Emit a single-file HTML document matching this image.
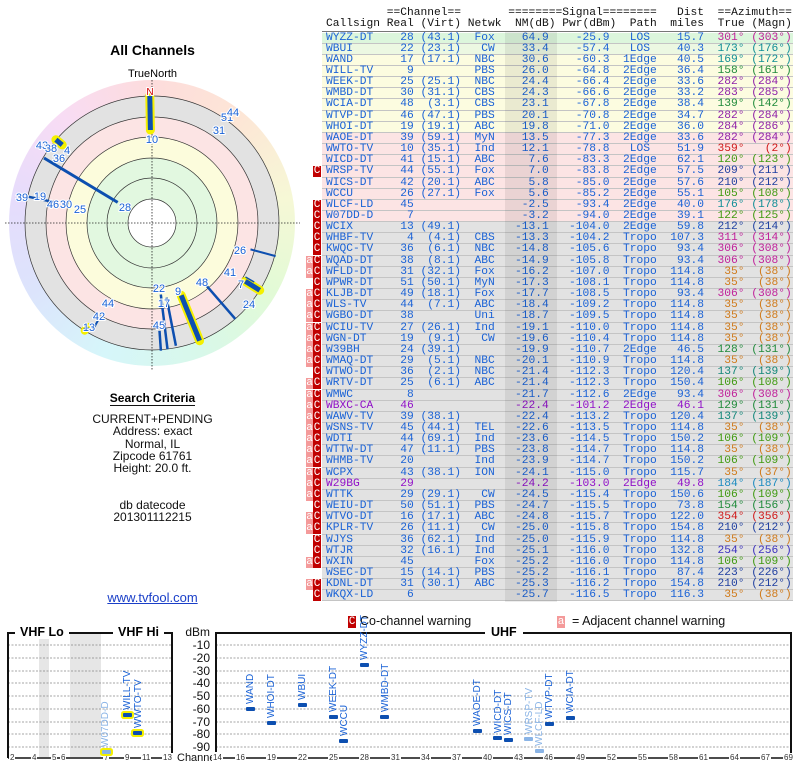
<!DOCTYPE html>
<html><head><meta charset="utf-8"><style>
*{margin:0;padding:0;box-sizing:border-box}
body{width:800px;height:768px;background:#fff;position:relative;overflow:hidden;font-family:"Liberation Sans",sans-serif}
.abs{position:absolute}
#hdr{position:absolute;left:326px;top:8px;font:11.25px/11px "Liberation Mono",monospace;color:#111;white-space:pre}
#hl{position:absolute;left:322px;top:31px;width:471px;height:1px;background:#777}
#tbl{position:absolute;left:322px;top:32.5px;width:471px;font:11.25px/11px "Liberation Mono",monospace;color:#1a62d6}
.r{position:relative;height:11.16px;border-bottom:1px solid #c4c4c4;padding-left:4px;white-space:pre;background:#e2e2e2}
.r span{display:inline-block;white-space:pre}
.a{width:11ch}.b{width:2ch;text-align:right}.c{width:7ch;text-align:right}.d{width:5ch;text-align:right}
.e{width:8ch;text-align:right}.f{width:9ch;text-align:right}.g{width:5ch;margin-left:2ch;text-align:center}
.h{width:7ch;text-align:right}.i{width:6ch;text-align:right}.j{width:7ch;text-align:right}
.G1{background:#dcf6dc}.G2{background:#ecf8e2}.Y{background:#fcfce0}.P{background:#fce4e4}
.pu{color:#9010c8}
.m{color:#c0209a}.t{color:#108e96}.gg{color:#1f8a3a}.p{color:#8e1fa8}.rd{color:#d01818}.lg{color:#3f9a10}.bl{color:#1f3fa0}.o{color:#d07a1a}.tg{color:#12877a}.cy{color:#1a8ac0}.v{color:#3a30c0}
.mc,.ma{position:absolute;top:0;height:11px;color:#fff;font:11px/11px "Liberation Mono",monospace;text-align:center}
.mc{left:-9px;width:8px;background:#c00000}
.ma{left:-16px;width:7px;background:#f49a9a}
#nm{position:absolute;left:505px;top:32px;width:52px;height:570px;background:rgba(0,0,0,0.07)}
.lbl{position:absolute;font:10px "Liberation Sans",sans-serif;color:#1a62d6;transform:rotate(-90deg);transform-origin:0 0;white-space:nowrap}
.lt{color:#8ab4e6}
.bar{position:absolute;width:9px;height:4px;background:#0d4fb0;border-radius:1px}
.bl2{background:#8ab4e6}
.hy{box-shadow:0 0 0 2px #f4f000}
.ax{position:absolute;font:8px "Liberation Sans",sans-serif;color:#333;background:#fff;padding:0 1px}
.yl{position:absolute;left:180px;width:30px;text-align:right;font:12px "Liberation Sans",sans-serif;color:#111}
</style></head><body>

<div class="abs" style="left:0;top:42px;width:305px;text-align:center;font-weight:bold;font-size:14px">All Channels</div>
<div class="abs" style="left:0;top:68px;width:305px;text-align:center;font-size:11px">TrueNorth</div>
<div class="abs" style="left:9px;top:80px;width:286px;height:286px;border-radius:50%;background:conic-gradient(#fddcdc,#fde6d6,#f6f8d6,#e2fad6,#d8f8ea,#d6f6fa,#dce4fc,#e6dcfc,#f8dcf4,#fddcdc)"></div>
<svg class="abs" style="left:0;top:0" width="305" height="400" font-family="Liberation Sans, sans-serif">
<circle cx="152" cy="223" r="127" fill="#e2e2e2" stroke="#333" stroke-width=".7"/>
<circle cx="152" cy="223" r="106" fill="#fce4e4" stroke="#333" stroke-width=".7"/>
<circle cx="152" cy="223" r="86" fill="#fcfcdc" stroke="#333" stroke-width=".7"/>
<circle cx="152" cy="223" r="65" fill="#e2f8e0" stroke="#333" stroke-width=".7"/>
<circle cx="152" cy="223" r="45" fill="none" stroke="#333" stroke-width=".7"/>
<circle cx="152" cy="223" r="24" fill="#fff" stroke="#333" stroke-width=".7"/>
<line x1="5" y1="223" x2="300" y2="223" stroke="#222" stroke-width=".8" stroke-dasharray="1.5,1.5"/>
<line x1="152" y1="80" x2="152" y2="370" stroke="#222" stroke-width=".8" stroke-dasharray="1.5,1.5"/>
<g stroke-linecap="round">
<line x1="150.4" y1="130" x2="149.8" y2="96" stroke="#f4f000" stroke-width="9"/>
<line x1="199.6" y1="340.7" x2="181.2" y2="295.3" stroke="#f4f000" stroke-width="9"/>
<line x1="245.3" y1="281.3" x2="259.7" y2="290.3" stroke="#f4f000" stroke-width="9"/>
<line x1="62.2" y1="144.9" x2="55.9" y2="139.7" stroke="#f4f000" stroke-width="9"/>
<line x1="87.4" y1="326.8" x2="84.7" y2="330.7" stroke="#f4f000" stroke-width="8"/>
</g>
<g stroke="#0d4fb0" stroke-linecap="butt">
<line x1="150.4" y1="130" x2="149.8" y2="96" stroke-width="5"/>
<line x1="199.6" y1="340.7" x2="181.2" y2="295.3" stroke-width="5"/>
<line x1="245.3" y1="281.3" x2="259.7" y2="290.3" stroke-width="5"/>
<line x1="62.2" y1="144.9" x2="55.9" y2="139.7" stroke-width="5"/>
<line x1="87.4" y1="326.8" x2="84.7" y2="330.7" stroke-width="4"/>
<line x1="117.7" y1="202.4" x2="44" y2="158" stroke-width="3"/>
<line x1="250.5" y1="249.4" x2="275.6" y2="256.1" stroke-width="2"/>
<line x1="206.5" y1="285.7" x2="235.3" y2="318.9" stroke-width="2.5"/>
<line x1="160.8" y1="294.5" x2="167.5" y2="349.1" stroke-width="2.5"/>
<line x1="166.5" y1="297.6" x2="175.9" y2="345.7" stroke-width="2.5"/>
<line x1="159.5" y1="330.8" x2="160.9" y2="350.7" stroke-width="2.5"/>
<line x1="98.7" y1="319.2" x2="92.8" y2="329.8" stroke-width="2"/>
<line x1="54.2" y1="202.2" x2="28.8" y2="196.8" stroke-width="2.5"/>
<line x1="245.5" y1="277" x2="254.2" y2="282" stroke-width="1.5"/>
</g>
<g font-size="11" fill="#1a62d6" text-anchor="middle" stroke="#fff" stroke-width="2" paint-order="stroke">
<text x="150" y="95" fill="#d00000" font-size="10">N</text>
<text x="152" y="143">10</text><text x="125" y="211">28</text><text x="240" y="254">26</text>
<text x="230" y="276">41</text><text x="241" y="288">7</text><text x="249" y="308">24</text>
<text x="202" y="286">48</text><text x="178" y="295">9</text><text x="159" y="292">22</text>
<text x="164" y="307">17</text><text x="159" y="329">45</text><text x="108" y="307">44</text>
<text x="99" y="320">42</text><text x="89" y="331">13</text>
<text x="42" y="149">43</text><text x="51" y="152">38</text><text x="67" y="154">4</text><text x="59" y="162">36</text>
<text x="22" y="201">39</text><text x="40" y="200">19</text><text x="53" y="208">46</text><text x="66" y="208">30</text><text x="80" y="213">25</text>
<text x="227" y="121">51</text><text x="219" y="134">31</text><text x="233" y="116">44</text>
</g>
</svg>

<div class="abs" style="left:0;top:391px;width:305px;text-align:center;font-weight:bold;font-size:12px"><span style="border-bottom:1px solid #111">Search Criteria</span></div>
<div class="abs" style="left:0;top:413px;width:305px;text-align:center;font-size:12px;line-height:12.3px;color:#111">CURRENT+PENDING<br>Address: exact<br>Normal, IL<br>Zipcode 61761<br>Height: 20.0 ft.<br><br><br>db datecode<br>201301112215</div>
<div class="abs" style="left:0;top:590px;width:305px;text-align:center;font-size:13px;color:#1a3fc8;text-decoration:underline">www.tvfool.com</div>

<div id="hdr">         ==Channel==       ========Signal========   Dist  ==Azimuth==
Callsign Real (Virt) Netwk  NM(dB) Pwr(dBm)  Path  miles  True (Magn)</div>
<div id="hl"></div>
<div id="tbl">
<div class="r G1"><span class=a>WYZZ-DT</span><span class=b>28</span><span class=c>(43.1)</span><span class=d>Fox</span><span class=e>64.9</span><span class=f>-25.9</span><span class=g>LOS</span><span class=h>15.7</span><span class="i m">301°</span><span class="j m">(303°)</span></div>
<div class="r G2"><span class=a>WBUI</span><span class=b>22</span><span class=c>(23.1)</span><span class=d>CW</span><span class=e>33.4</span><span class=f>-57.4</span><span class=g>LOS</span><span class=h>40.3</span><span class="i t">173°</span><span class="j t">(176°)</span></div>
<div class="r Y"><span class=a>WAND</span><span class=b>17</span><span class=c>(17.1)</span><span class=d>NBC</span><span class=e>30.6</span><span class=f>-60.3</span><span class=g>1Edge</span><span class=h>40.5</span><span class="i t">169°</span><span class="j t">(172°)</span></div>
<div class="r Y"><span class=a>WILL-TV</span><span class=b>9</span><span class=c></span><span class=d>PBS</span><span class=e>26.0</span><span class=f>-64.8</span><span class=g>2Edge</span><span class=h>36.4</span><span class="i gg">158°</span><span class="j gg">(161°)</span></div>
<div class="r Y"><span class=a>WEEK-DT</span><span class=b>25</span><span class=c>(25.1)</span><span class=d>NBC</span><span class=e>24.4</span><span class=f>-66.4</span><span class=g>2Edge</span><span class=h>33.6</span><span class="i p">282°</span><span class="j p">(284°)</span></div>
<div class="r Y"><span class=a>WMBD-DT</span><span class=b>30</span><span class=c>(31.1)</span><span class=d>CBS</span><span class=e>24.3</span><span class=f>-66.6</span><span class=g>2Edge</span><span class=h>33.2</span><span class="i p">283°</span><span class="j p">(285°)</span></div>
<div class="r Y"><span class=a>WCIA-DT</span><span class=b>48</span><span class=c>(3.1)</span><span class=d>CBS</span><span class=e>23.1</span><span class=f>-67.8</span><span class=g>2Edge</span><span class=h>38.4</span><span class="i gg">139°</span><span class="j gg">(142°)</span></div>
<div class="r Y"><span class=a>WTVP-DT</span><span class=b>46</span><span class=c>(47.1)</span><span class=d>PBS</span><span class=e>20.1</span><span class=f>-70.8</span><span class=g>2Edge</span><span class=h>34.7</span><span class="i p">282°</span><span class="j p">(284°)</span></div>
<div class="r Y"><span class=a>WHOI-DT</span><span class=b>19</span><span class=c>(19.1)</span><span class=d>ABC</span><span class=e>19.8</span><span class=f>-71.0</span><span class=g>2Edge</span><span class=h>36.0</span><span class="i p">284°</span><span class="j p">(286°)</span></div>
<div class="r P"><span class=a>WAOE-DT</span><span class=b>39</span><span class=c>(59.1)</span><span class=d>MyN</span><span class=e>13.5</span><span class=f>-77.3</span><span class=g>2Edge</span><span class=h>33.6</span><span class="i p">282°</span><span class="j p">(284°)</span></div>
<div class="r P"><span class=a>WWTO-TV</span><span class=b>10</span><span class=c>(35.1)</span><span class=d>Ind</span><span class=e>12.1</span><span class=f>-78.8</span><span class=g>LOS</span><span class=h>51.9</span><span class="i rd">359°</span><span class="j rd">(2°)</span></div>
<div class="r P"><span class=a>WICD-DT</span><span class=b>41</span><span class=c>(15.1)</span><span class=d>ABC</span><span class=e>7.6</span><span class=f>-83.3</span><span class=g>2Edge</span><span class=h>62.1</span><span class="i lg">120°</span><span class="j lg">(123°)</span></div>
<div class="r P"><i class=mc>C</i><span class=a>WRSP-TV</span><span class=b>44</span><span class=c>(55.1)</span><span class=d>Fox</span><span class=e>7.0</span><span class=f>-83.8</span><span class=g>2Edge</span><span class=h>57.5</span><span class="i bl">209°</span><span class="j bl">(211°)</span></div>
<div class="r P"><span class=a>WICS-DT</span><span class=b>42</span><span class=c>(20.1)</span><span class=d>ABC</span><span class=e>5.8</span><span class=f>-85.0</span><span class=g>2Edge</span><span class=h>57.6</span><span class="i bl">210°</span><span class="j bl">(212°)</span></div>
<div class="r P"><span class=a>WCCU</span><span class=b>26</span><span class=c>(27.1)</span><span class=d>Fox</span><span class=e>5.6</span><span class=f>-85.2</span><span class=g>2Edge</span><span class=h>55.1</span><span class="i lg">105°</span><span class="j lg">(108°)</span></div>
<div class="r P"><i class=mc>C</i><span class=a>WLCF-LD</span><span class=b>45</span><span class=c></span><span class=d></span><span class=e>-2.5</span><span class=f>-93.4</span><span class=g>2Edge</span><span class=h>40.0</span><span class="i t">176°</span><span class="j t">(178°)</span></div>
<div class="r P"><i class=mc>C</i><span class=a>W07DD-D</span><span class=b>7</span><span class=c></span><span class=d></span><span class=e>-3.2</span><span class=f>-94.0</span><span class=g>2Edge</span><span class=h>39.1</span><span class="i lg">122°</span><span class="j lg">(125°)</span></div>
<div class="r"><i class=mc>C</i><span class=a>WCIX</span><span class=b>13</span><span class=c>(49.1)</span><span class=d></span><span class=e>-13.1</span><span class=f>-104.0</span><span class=g>2Edge</span><span class=h>59.8</span><span class="i bl">212°</span><span class="j bl">(214°)</span></div>
<div class="r"><i class=mc>C</i><span class=a>WHBF-TV</span><span class=b>4</span><span class=c>(4.1)</span><span class=d>CBS</span><span class=e>-13.3</span><span class=f>-104.2</span><span class=g>Tropo</span><span class=h>107.3</span><span class="i m">311°</span><span class="j m">(314°)</span></div>
<div class="r"><i class=mc>C</i><span class=a>KWQC-TV</span><span class=b>36</span><span class=c>(6.1)</span><span class=d>NBC</span><span class=e>-14.8</span><span class=f>-105.6</span><span class=g>Tropo</span><span class=h>93.4</span><span class="i m">306°</span><span class="j m">(308°)</span></div>
<div class="r"><i class=ma>a</i><i class=mc>C</i><span class=a>WQAD-DT</span><span class=b>38</span><span class=c>(8.1)</span><span class=d>ABC</span><span class=e>-14.9</span><span class=f>-105.8</span><span class=g>Tropo</span><span class=h>93.4</span><span class="i m">306°</span><span class="j m">(308°)</span></div>
<div class="r"><i class=ma>a</i><i class=mc>C</i><span class=a>WFLD-DT</span><span class=b>31</span><span class=c>(32.1)</span><span class=d>Fox</span><span class=e>-16.2</span><span class=f>-107.0</span><span class=g>Tropo</span><span class=h>114.8</span><span class="i o">35°</span><span class="j o">(38°)</span></div>
<div class="r"><i class=mc>C</i><span class=a>WPWR-DT</span><span class=b>51</span><span class=c>(50.1)</span><span class=d>MyN</span><span class=e>-17.3</span><span class=f>-108.1</span><span class=g>Tropo</span><span class=h>114.8</span><span class="i o">35°</span><span class="j o">(38°)</span></div>
<div class="r"><i class=ma>a</i><i class=mc>C</i><span class=a>KLJB-DT</span><span class=b>49</span><span class=c>(18.1)</span><span class=d>Fox</span><span class=e>-17.7</span><span class=f>-108.5</span><span class=g>Tropo</span><span class=h>93.4</span><span class="i m">306°</span><span class="j m">(308°)</span></div>
<div class="r"><i class=ma>a</i><i class=mc>C</i><span class=a>WLS-TV</span><span class=b>44</span><span class=c>(7.1)</span><span class=d>ABC</span><span class=e>-18.4</span><span class=f>-109.2</span><span class=g>Tropo</span><span class=h>114.8</span><span class="i o">35°</span><span class="j o">(38°)</span></div>
<div class="r"><i class=ma>a</i><i class=mc>C</i><span class=a>WGBO-DT</span><span class=b>38</span><span class=c></span><span class=d>Uni</span><span class=e>-18.7</span><span class=f>-109.5</span><span class=g>Tropo</span><span class=h>114.8</span><span class="i o">35°</span><span class="j o">(38°)</span></div>
<div class="r"><i class=ma>a</i><i class=mc>C</i><span class=a>WCIU-TV</span><span class=b>27</span><span class=c>(26.1)</span><span class=d>Ind</span><span class=e>-19.1</span><span class=f>-110.0</span><span class=g>Tropo</span><span class=h>114.8</span><span class="i o">35°</span><span class="j o">(38°)</span></div>
<div class="r"><i class=ma>a</i><i class=mc>C</i><span class=a>WGN-DT</span><span class=b>19</span><span class=c>(9.1)</span><span class=d>CW</span><span class=e>-19.6</span><span class=f>-110.4</span><span class=g>Tropo</span><span class=h>114.8</span><span class="i o">35°</span><span class="j o">(38°)</span></div>
<div class="r"><i class=ma>a</i><i class=mc>C</i><span class=a>W39BH</span><span class=b>24</span><span class=c>(39.1)</span><span class=d></span><span class=e>-19.9</span><span class=f>-110.7</span><span class=g>2Edge</span><span class=h>46.5</span><span class="i gg">128°</span><span class="j gg">(131°)</span></div>
<div class="r"><i class=ma>a</i><i class=mc>C</i><span class=a>WMAQ-DT</span><span class=b>29</span><span class=c>(5.1)</span><span class=d>NBC</span><span class=e>-20.1</span><span class=f>-110.9</span><span class=g>Tropo</span><span class=h>114.8</span><span class="i o">35°</span><span class="j o">(38°)</span></div>
<div class="r"><i class=mc>C</i><span class=a>WTWO-DT</span><span class=b>36</span><span class=c>(2.1)</span><span class=d>NBC</span><span class=e>-21.4</span><span class=f>-112.3</span><span class=g>Tropo</span><span class=h>120.4</span><span class="i tg">137°</span><span class="j tg">(139°)</span></div>
<div class="r"><i class=ma>a</i><i class=mc>C</i><span class=a>WRTV-DT</span><span class=b>25</span><span class=c>(6.1)</span><span class=d>ABC</span><span class=e>-21.4</span><span class=f>-112.3</span><span class=g>Tropo</span><span class=h>150.4</span><span class="i lg">106°</span><span class="j lg">(108°)</span></div>
<div class="r"><i class=ma>a</i><i class=mc>C</i><span class=a>WMWC</span><span class=b>8</span><span class=c></span><span class=d></span><span class=e>-21.7</span><span class=f>-112.6</span><span class=g>2Edge</span><span class=h>93.4</span><span class="i m">306°</span><span class="j m">(308°)</span></div>
<div class="r pu"><i class=ma>a</i><i class=mc>C</i><span class=a>WBXC-CA</span><span class=b>46</span><span class=c></span><span class=d></span><span class=e>-22.4</span><span class=f>-101.2</span><span class=g>2Edge</span><span class=h>46.1</span><span class="i gg">129°</span><span class="j gg">(131°)</span></div>
<div class="r"><i class=ma>a</i><i class=mc>C</i><span class=a>WAWV-TV</span><span class=b>39</span><span class=c>(38.1)</span><span class=d></span><span class=e>-22.4</span><span class=f>-113.2</span><span class=g>Tropo</span><span class=h>120.4</span><span class="i tg">137°</span><span class="j tg">(139°)</span></div>
<div class="r"><i class=ma>a</i><i class=mc>C</i><span class=a>WSNS-TV</span><span class=b>45</span><span class=c>(44.1)</span><span class=d>TEL</span><span class=e>-22.6</span><span class=f>-113.5</span><span class=g>Tropo</span><span class=h>114.8</span><span class="i o">35°</span><span class="j o">(38°)</span></div>
<div class="r"><i class=ma>a</i><i class=mc>C</i><span class=a>WDTI</span><span class=b>44</span><span class=c>(69.1)</span><span class=d>Ind</span><span class=e>-23.6</span><span class=f>-114.5</span><span class=g>Tropo</span><span class=h>150.2</span><span class="i lg">106°</span><span class="j lg">(109°)</span></div>
<div class="r"><i class=ma>a</i><i class=mc>C</i><span class=a>WTTW-DT</span><span class=b>47</span><span class=c>(11.1)</span><span class=d>PBS</span><span class=e>-23.8</span><span class=f>-114.7</span><span class=g>Tropo</span><span class=h>114.8</span><span class="i o">35°</span><span class="j o">(38°)</span></div>
<div class="r"><i class=ma>a</i><i class=mc>C</i><span class=a>WHMB-TV</span><span class=b>20</span><span class=c></span><span class=d>Ind</span><span class=e>-23.9</span><span class=f>-114.7</span><span class=g>Tropo</span><span class=h>150.2</span><span class="i lg">106°</span><span class="j lg">(109°)</span></div>
<div class="r"><i class=ma>a</i><i class=mc>C</i><span class=a>WCPX</span><span class=b>43</span><span class=c>(38.1)</span><span class=d>ION</span><span class=e>-24.1</span><span class=f>-115.0</span><span class=g>Tropo</span><span class=h>115.7</span><span class="i o">35°</span><span class="j o">(37°)</span></div>
<div class="r pu"><i class=ma>a</i><i class=mc>C</i><span class=a>W29BG</span><span class=b>29</span><span class=c></span><span class=d></span><span class=e>-24.2</span><span class=f>-103.0</span><span class=g>2Edge</span><span class=h>49.8</span><span class="i cy">184°</span><span class="j cy">(187°)</span></div>
<div class="r"><i class=ma>a</i><i class=mc>C</i><span class=a>WTTK</span><span class=b>29</span><span class=c>(29.1)</span><span class=d>CW</span><span class=e>-24.5</span><span class=f>-115.4</span><span class=g>Tropo</span><span class=h>150.6</span><span class="i lg">106°</span><span class="j lg">(109°)</span></div>
<div class="r"><i class=mc>C</i><span class=a>WEIU-DT</span><span class=b>50</span><span class=c>(51.1)</span><span class=d>PBS</span><span class=e>-24.7</span><span class=f>-115.5</span><span class=g>Tropo</span><span class=h>73.8</span><span class="i gg">154°</span><span class="j gg">(156°)</span></div>
<div class="r"><i class=ma>a</i><i class=mc>C</i><span class=a>WTVO-DT</span><span class=b>16</span><span class=c>(17.1)</span><span class=d>ABC</span><span class=e>-24.8</span><span class=f>-115.7</span><span class=g>Tropo</span><span class=h>122.0</span><span class="i rd">354°</span><span class="j rd">(356°)</span></div>
<div class="r"><i class=ma>a</i><i class=mc>C</i><span class=a>KPLR-TV</span><span class=b>26</span><span class=c>(11.1)</span><span class=d>CW</span><span class=e>-25.0</span><span class=f>-115.8</span><span class=g>Tropo</span><span class=h>154.8</span><span class="i bl">210°</span><span class="j bl">(212°)</span></div>
<div class="r"><i class=mc>C</i><span class=a>WJYS</span><span class=b>36</span><span class=c>(62.1)</span><span class=d>Ind</span><span class=e>-25.0</span><span class=f>-115.9</span><span class=g>Tropo</span><span class=h>114.8</span><span class="i o">35°</span><span class="j o">(38°)</span></div>
<div class="r"><i class=mc>C</i><span class=a>WTJR</span><span class=b>32</span><span class=c>(16.1)</span><span class=d>Ind</span><span class=e>-25.1</span><span class=f>-116.0</span><span class=g>Tropo</span><span class=h>132.8</span><span class="i v">254°</span><span class="j v">(256°)</span></div>
<div class="r"><i class=ma>a</i><i class=mc>C</i><span class=a>WXIN</span><span class=b>45</span><span class=c></span><span class=d>Fox</span><span class=e>-25.2</span><span class=f>-116.0</span><span class=g>Tropo</span><span class=h>114.8</span><span class="i lg">106°</span><span class="j lg">(109°)</span></div>
<div class="r"><span class=a>WSEC-DT</span><span class=b>15</span><span class=c>(14.1)</span><span class=d>PBS</span><span class=e>-25.2</span><span class=f>-116.1</span><span class=g>Tropo</span><span class=h>87.4</span><span class="i bl">223°</span><span class="j bl">(226°)</span></div>
<div class="r"><i class=ma>a</i><i class=mc>C</i><span class=a>KDNL-DT</span><span class=b>31</span><span class=c>(30.1)</span><span class=d>ABC</span><span class=e>-25.3</span><span class=f>-116.2</span><span class=g>Tropo</span><span class=h>154.8</span><span class="i bl">210°</span><span class="j bl">(212°)</span></div>
<div class="r"><i class=mc>C</i><span class=a>WKQX-LD</span><span class=b>6</span><span class=c></span><span class=d></span><span class=e>-25.7</span><span class=f>-116.5</span><span class=g>Tropo</span><span class=h>116.3</span><span class="i o">35°</span><span class="j o">(38°)</span></div>
</div>
<div id="nm"></div>

<div class="abs" style="left:348px;top:616px;width:8px;height:12px;background:#c00000;color:#fff;font:11px/12px 'Liberation Mono',monospace;text-align:center">C</div>
<div class="abs" style="left:360px;top:614px;font-size:12.5px;color:#111">Co-channel warning</div>
<div class="abs" style="left:557px;top:616px;width:8px;height:12px;background:#f49a9a;color:#fff;font:11px/12px 'Liberation Mono',monospace;text-align:center">a</div>
<div class="abs" style="left:572px;top:614px;font-size:12.5px;color:#111">= Adjacent channel warning</div>

<svg class="abs" style="left:0;top:620px" width="800" height="148">
<rect x="39" y="14" width="10" height="123" fill="#e6e6e6"/>
<rect x="70" y="14" width="31" height="123" fill="#e6e6e6"/>
<g stroke="#888" stroke-width=".8" stroke-dasharray="2,1.5">
<line x1="8" x2="172" y1="25" y2="25"/><line x1="8" x2="172" y1="38" y2="38"/><line x1="8" x2="172" y1="51" y2="51"/><line x1="8" x2="172" y1="63" y2="63"/><line x1="8" x2="172" y1="76" y2="76"/><line x1="8" x2="172" y1="89" y2="89"/><line x1="8" x2="172" y1="102" y2="102"/><line x1="8" x2="172" y1="114" y2="114"/><line x1="8" x2="172" y1="127" y2="127"/>
<line x1="216" x2="791" y1="25" y2="25"/><line x1="216" x2="791" y1="38" y2="38"/><line x1="216" x2="791" y1="51" y2="51"/><line x1="216" x2="791" y1="63" y2="63"/><line x1="216" x2="791" y1="76" y2="76"/><line x1="216" x2="791" y1="89" y2="89"/><line x1="216" x2="791" y1="102" y2="102"/><line x1="216" x2="791" y1="114" y2="114"/><line x1="216" x2="791" y1="127" y2="127"/>
</g>
<g stroke="#111" stroke-width="2" fill="none">
<polyline points="8,138 8,13 172,13 172,138"/>
<polyline points="216,138 216,13 791,13 791,138"/>
</g>
<line x1="8" x2="172" y1="138" y2="138" stroke="#111" stroke-width="1.5"/>
<line x1="216" x2="791" y1="138" y2="138" stroke="#111" stroke-width="1.5"/>
</svg>
<div class="abs" style="left:15px;top:625px;background:#fff;padding:0 5px;font-weight:bold;font-size:12.5px">VHF Lo</div>
<div class="abs" style="left:113px;top:625px;background:#fff;padding:0 5px;font-weight:bold;font-size:12.5px">VHF Hi</div>
<div class="abs" style="left:485px;top:625px;background:#fff;padding:0 6px;font-weight:bold;font-size:12.5px">UHF</div>
<div class="yl" style="top:625px">dBm</div>
<div class="yl" style="top:638px">-10</div><div class="yl" style="top:651px">-20</div><div class="yl" style="top:664px">-30</div><div class="yl" style="top:676px">-40</div><div class="yl" style="top:689px">-50</div><div class="yl" style="top:702px">-60</div><div class="yl" style="top:715px">-70</div><div class="yl" style="top:727px">-80</div><div class="yl" style="top:740px">-90</div>
<div class="abs" style="left:177px;top:752px;font-size:11px;color:#111;background:#fff">Channel</div>
<div class="ax" style="left:9px;top:753px">2</div><div class="ax" style="left:31px;top:753px">4</div><div class="ax" style="left:51px;top:753px">5</div><div class="ax" style="left:60px;top:753px">6</div><div class="ax" style="left:103px;top:753px">7</div><div class="ax" style="left:124px;top:753px">9</div><div class="ax" style="left:141px;top:753px">11</div><div class="ax" style="left:162px;top:753px">13</div>
<div class="ax" style="left:212px;top:753px">14</div><div class="ax" style="left:235px;top:753px">16</div><div class="ax" style="left:266px;top:753px">19</div><div class="ax" style="left:297px;top:753px">22</div><div class="ax" style="left:328px;top:753px">25</div><div class="ax" style="left:359px;top:753px">28</div><div class="ax" style="left:390px;top:753px">31</div><div class="ax" style="left:420px;top:753px">34</div><div class="ax" style="left:451px;top:753px">37</div><div class="ax" style="left:482px;top:753px">40</div><div class="ax" style="left:513px;top:753px">43</div><div class="ax" style="left:543px;top:753px">46</div><div class="ax" style="left:575px;top:753px">49</div><div class="ax" style="left:606px;top:753px">52</div><div class="ax" style="left:637px;top:753px">55</div><div class="ax" style="left:668px;top:753px">58</div><div class="ax" style="left:698px;top:753px">61</div><div class="ax" style="left:729px;top:753px">64</div><div class="ax" style="left:760px;top:753px">67</div><div class="ax" style="left:783px;top:753px">69</div>

<div class="bar bl2 hy" style="left:102px;top:750px"></div><div class="lbl lt" style="left:100px;top:747px">W07DD-D</div>
<div class="bar hy" style="left:123px;top:713px"></div><div class="lbl" style="left:122px;top:710px">WILL-TV</div>
<div class="bar hy" style="left:133px;top:731px"></div><div class="lbl" style="left:133px;top:728px">WWTO-TV</div>
<div class="bar" style="left:246px;top:707px"></div><div class="lbl" style="left:245px;top:704px">WAND</div>
<div class="bar" style="left:267px;top:721px"></div><div class="lbl" style="left:266px;top:718px">WHOI-DT</div>
<div class="bar" style="left:298px;top:703px"></div><div class="lbl" style="left:297px;top:700px">WBUI</div>
<div class="bar" style="left:329px;top:715px"></div><div class="lbl" style="left:328px;top:712px">WEEK-DT</div>
<div class="bar" style="left:339px;top:739px"></div><div class="lbl" style="left:339px;top:736px">WCCU</div>
<div class="bar" style="left:360px;top:663px"></div><div class="lbl" style="left:359px;top:660px">WYZZ-DT</div>
<div class="bar" style="left:380px;top:715px"></div><div class="lbl" style="left:380px;top:712px">WMBD-DT</div>
<div class="bar" style="left:473px;top:729px"></div><div class="lbl" style="left:472px;top:726px">WAOE-DT</div>
<div class="bar" style="left:493px;top:736px"></div><div class="lbl" style="left:493px;top:733px">WICD-DT</div>
<div class="bar" style="left:504px;top:738px"></div><div class="lbl" style="left:503px;top:735px">WICS-DT</div>
<div class="bar bl2" style="left:524px;top:737px"></div><div class="lbl lt" style="left:524px;top:734px">WRSP-TV</div>
<div class="bar bl2" style="left:535px;top:749px"></div><div class="lbl lt" style="left:534px;top:746px">WLCF-LD</div>
<div class="bar" style="left:545px;top:722px"></div><div class="lbl" style="left:544px;top:719px">WTVP-DT</div>
<div class="bar" style="left:566px;top:716px"></div><div class="lbl" style="left:565px;top:713px">WCIA-DT</div>
</body></html>
